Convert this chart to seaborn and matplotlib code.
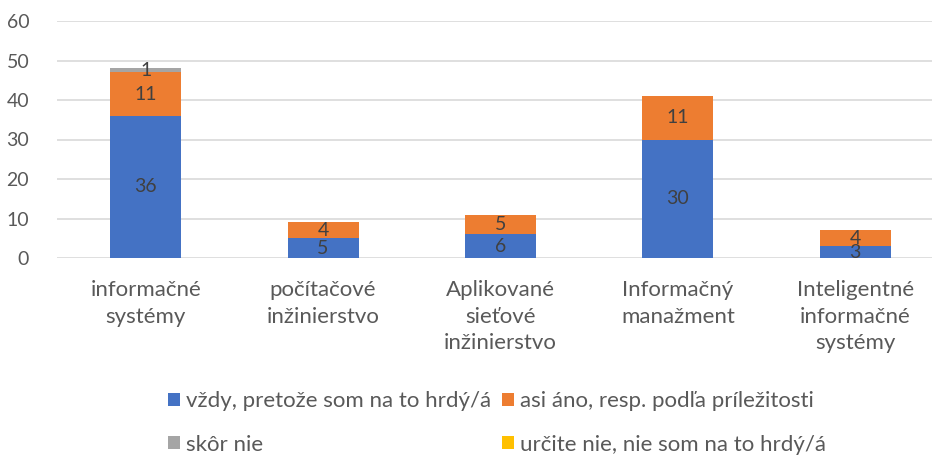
import matplotlib
matplotlib.use("Agg")
import matplotlib.pyplot as plt
import seaborn as sns
import numpy as np

# data
categories = ["informačné\nsystémy", "počítačové\ninžinierstvo",
              "Aplikované\nsieťové\ninžinierstvo", "Informačný\nmanažment",
              "Inteligentné\ninformačné\nsystémy"]
vzdy = [36, 5, 6, 30, 3]
asi_ano = [11, 4, 5, 11, 4]
skor_nie = [1, 0, 0, 0, 0]
urcite_nie = [0, 0, 0, 0, 0]

series_names = ["vždy, pretože som na to hrdý/á",
                "asi áno, resp. podľa príležitosti",
                "skôr nie",
                "určite nie, nie som na to hrdý/á"]
series_values = [vzdy, asi_ano, skor_nie, urcite_nie]
colors = ["#4472C4", "#ED7D31", "#A5A5A5", "#FFC000"]

sns.set_style("white")
plt.rcParams["font.family"] = ["Lato", "DejaVu Sans"]

fig = plt.figure(figsize=(9.32, 4.55), dpi=100)
ax = fig.add_axes([57 / 932, 197 / 455, 887 / 932, 237 / 455])

# stacked bars, one barplot call per answer
bottom = np.zeros(len(categories))
for name, vals, col in zip(series_names, series_values, colors):
    vals = np.array(vals, dtype=float)
    sns.barplot(x=categories, y=vals, bottom=bottom, color=col, width=0.4,
                saturation=1, linewidth=0, ax=ax, label=name, zorder=3)
    for i, v in enumerate(vals):
        if v > 0:
            ax.text(i, bottom[i] + v / 2, f"{int(v)}", ha="center", va="center",
                    fontsize=14, color="#404040", zorder=4)
    bottom = bottom + vals

h, l = ax.get_legend_handles_labels()
if ax.get_legend() is not None:
    ax.get_legend().remove()

ax.set_ylim(0, 60)
ax.set_xlim(-0.5, len(categories) - 0.5)
ax.set_yticks(range(0, 61, 10))
ax.yaxis.grid(True, color="#D9D9D9", linewidth=1.2, zorder=0)
ax.xaxis.grid(False)
for s in ax.spines.values():
    s.set_visible(False)
ax.tick_params(axis="y", length=0, labelsize=14, labelcolor="#595959", pad=20)
ax.tick_params(axis="x", length=0, labelsize=16, labelcolor="#595959", pad=16)
for lbl in ax.get_xticklabels():
    lbl.set_linespacing(1.4)
ax.set_xlabel("")
ax.set_ylabel("")

# Excel fills legend rows first, matplotlib columns first
order = [0, 2, 1, 3]
fig.legend([h[i] for i in order], [l[i] for i in order], ncol=2,
           loc="lower left", bbox_to_anchor=(148 / 932, -0.043), frameon=False,
           fontsize=16, labelcolor="#595959", handlelength=0.55,
           handleheight=0.55, handletextpad=0.25, columnspacing=0.5,
           labelspacing=1.05)

fig.savefig("out.png", dpi=100)
